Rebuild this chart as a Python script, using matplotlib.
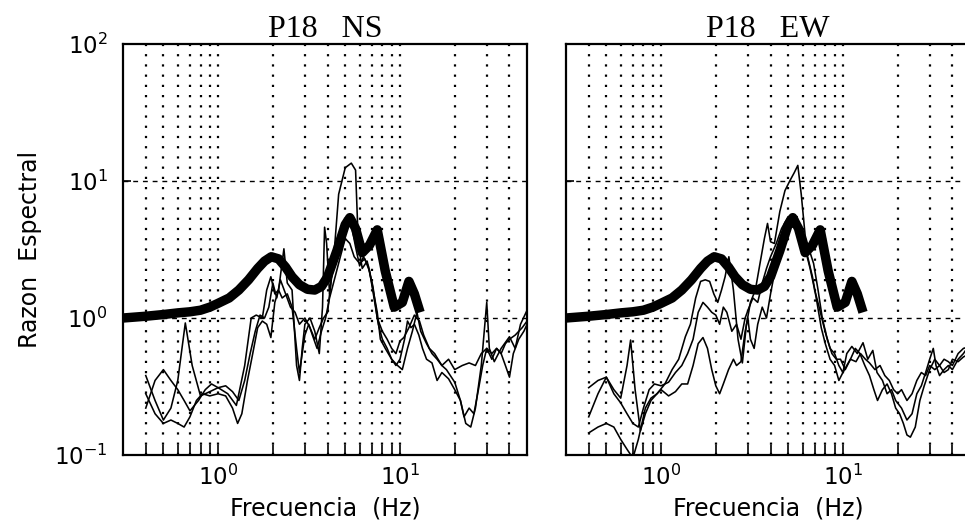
import matplotlib
matplotlib.use("Agg")
import matplotlib.pyplot as plt
from matplotlib.ticker import FixedLocator, NullFormatter, FixedFormatter

plt.rcParams["font.family"] = ["DejaVu Sans"]
plt.rcParams["mathtext.fontset"] = "dejavusans"

# Theoretical 1D transfer function of site P18 (same model for both components)
modelo_f = [0.3, 0.4, 0.5, 0.6, 0.7, 0.8, 0.9, 1.0, 1.15, 1.3, 1.47, 1.65, 1.8,
            1.96, 2.15, 2.35, 2.55, 2.8, 3.1, 3.4, 3.7, 4.0, 4.5, 5.0, 5.3, 5.7,
            6.2, 6.8, 7.5, 8.3, 9.3, 10.3, 11.2, 12.0, 12.9]
modelo_v = [1.0, 1.03, 1.06, 1.09, 1.11, 1.14, 1.2, 1.28, 1.4, 1.6, 1.9, 2.3, 2.6,
            2.8, 2.7, 2.35, 2.0, 1.75, 1.62, 1.6, 1.7, 2.0, 3.1, 4.8, 5.4, 4.5,
            3.0, 3.4, 4.4, 2.2, 1.2, 1.3, 1.85, 1.5, 1.1]

# Observed spectral ratios, NS component (three records)
ns_a_f = [0.40, 0.45, 0.50, 0.55, 0.60, 0.66, 0.72, 0.80, 0.90, 1.00, 1.13, 1.26,
          1.40, 1.52, 1.62, 1.75, 1.85, 1.95, 2.05, 2.15, 2.30, 2.40, 2.55, 2.70,
          2.80, 2.90, 3.00, 3.20, 3.40, 3.60, 3.75, 3.85, 3.95, 4.10, 4.30, 4.60,
          5.00, 5.40, 5.70, 5.90, 6.20, 6.60, 7.00, 7.50, 7.80, 8.30, 9.00, 9.70,
          10.3, 11.0, 11.7, 12.4, 13.0, 14.0, 15.0, 16.0, 17.0, 18.0, 20.0, 21.5,
          23.0, 24.5, 26.0, 28.0, 30.0, 31.0, 33.0, 36.0, 40.0, 43.0, 46.0, 50.0]
ns_a_v = [0.38, 0.25, 0.18, 0.22, 0.35, 0.92, 0.45, 0.27, 0.29, 0.31, 0.28, 0.23,
          0.45, 1.0, 1.05, 1.0, 1.6, 2.0, 1.5, 1.6, 3.2, 1.8, 1.6, 0.45,
          0.35, 0.6, 0.9, 1.0, 0.8, 0.55, 1.2, 4.6, 3.5, 1.5, 2.5, 8.0,
          12.5, 13.5, 12.0, 3.5, 2.3, 2.6, 1.8, 1.1, 0.7, 0.6, 0.5, 0.45,
          0.42, 0.6, 0.8, 1.1, 0.8, 0.65, 0.55, 0.5, 0.45, 0.42, 0.34, 0.25,
          0.17, 0.16, 0.22, 0.45, 1.3, 0.6, 0.48, 0.6, 0.73, 0.6, 0.9, 1.14]

ns_b_f = [0.40, 0.45, 0.50, 0.55, 0.60, 0.65, 0.70, 0.78, 0.85, 0.92, 1.0, 1.1,
          1.2, 1.3, 1.4, 1.5, 1.6, 1.7, 1.8, 1.9, 2.0, 2.1, 2.2, 2.35, 2.5, 2.65,
          2.8, 3.0, 3.2, 3.4, 3.6, 3.8, 4.0, 4.2, 4.5, 4.8, 5.1, 5.4, 5.7, 6.0,
          6.3, 6.7, 7.1, 7.5, 8.0, 8.5, 9.0, 9.5, 10.0, 10.5, 11.2, 12.0, 12.8,
          13.5, 14.5, 15.5, 17.0, 18.5, 20.0, 22.0, 24.0, 26.0, 28.0, 30.0, 32.0,
          34.0, 36.0, 38.0, 40.0, 43.0, 47.0, 50.0]
ns_b_v = [0.22, 0.35, 0.42, 0.35, 0.30, 0.25, 0.21, 0.25, 0.30, 0.33, 0.31, 0.32,
          0.29, 0.25, 0.35, 0.55, 0.8, 1.05, 1.0, 1.2, 1.8, 1.4, 1.9, 1.5, 1.2, 1.1,
          0.9, 1.0, 0.85, 0.7, 0.85, 1.0, 1.1, 2.0, 2.8, 3.5, 5.5, 4.8, 3.3, 2.4,
          2.8, 2.4, 1.7, 1.0, 0.8, 0.7, 0.6, 0.55, 0.68, 0.72, 0.85, 1.05, 0.95,
          0.75, 0.6, 0.55, 0.45, 0.5, 0.42, 0.45, 0.47, 0.45, 0.55, 0.6, 0.55,
          0.6, 0.55, 0.65, 0.7, 0.75, 0.85, 0.95]

ns_c_f = [0.40, 0.45, 0.50, 0.55, 0.60, 0.65, 0.70, 0.76, 0.82, 0.90, 1.0, 1.1,
          1.2, 1.28, 1.35, 1.45, 1.55, 1.65, 1.75, 1.85, 1.95, 2.05, 2.15, 2.25,
          2.4, 2.55, 2.7, 2.8, 2.9, 3.0, 3.15, 3.3, 3.5, 3.7, 3.9, 4.1, 4.4, 4.7,
          5.0, 5.3, 5.6, 6.0, 6.4, 6.8, 7.2, 7.6, 8.0, 8.5, 9.0, 9.5, 10.0, 10.6,
          11.0, 11.5, 12.0, 12.7, 13.3, 14.0, 15.0, 16.0, 17.0, 18.5, 20.0, 21.5,
          22.5, 24.0, 25.5, 27.0, 28.5, 30.0, 32.0, 34.0, 36.0, 38.0, 40.0, 42.0,
          45.0, 48.0, 50.0]
ns_c_v = [0.28, 0.20, 0.17, 0.18, 0.17, 0.16, 0.19, 0.25, 0.28, 0.27, 0.28, 0.27,
          0.22, 0.17, 0.2, 0.35, 0.55, 0.85, 0.95, 0.9, 0.72, 1.3, 1.6, 1.4,
          1.5, 1.2, 0.6, 0.4, 0.55, 0.75, 0.9, 0.75, 0.6, 0.8, 1.0, 1.4, 2.0, 2.8,
          3.8, 3.5, 2.8, 2.5, 2.7, 2.2, 1.4, 0.9, 0.7, 0.6, 0.5, 0.45, 0.5, 0.7,
          0.95, 0.85, 0.9, 0.75, 0.6, 0.5, 0.47, 0.35, 0.4, 0.36, 0.3, 0.25,
          0.19, 0.22, 0.2, 0.3, 0.45, 0.6, 0.5, 0.6, 0.55, 0.45, 0.37, 0.55,
          0.7, 0.8, 0.9]

# Observed spectral ratios, EW component (three records)
ew_a_f = [0.40, 0.45, 0.50, 0.55, 0.60, 0.65, 0.68, 0.72, 0.77, 0.82, 0.88, 0.95,
          1.0, 1.1, 1.2, 1.3, 1.4, 1.5, 1.6, 1.7, 1.8, 1.9, 2.0, 2.1, 2.2, 2.35,
          2.5, 2.6, 2.75, 2.9, 3.0, 3.1, 3.25, 3.4, 3.6, 3.8, 4.0, 4.3, 4.6, 5.0,
          5.3, 5.6, 5.9, 6.2, 6.6, 7.0, 7.4, 7.8, 8.2, 8.7, 9.2, 9.7, 10.3, 11.0,
          11.7, 12.4, 13.2, 14.0, 14.8, 15.5, 16.5, 17.5, 18.5, 19.5, 20.5, 21.5,
          22.5, 23.5, 25.0, 26.5, 28.0, 30.0, 32.0, 34.0, 36.0, 38.0, 40.0, 43.0,
          46.0, 50.0]
ew_a_v = [0.31, 0.35, 0.37, 0.30, 0.26, 0.45, 0.69, 0.3, 0.15, 0.2, 0.25, 0.28,
          0.3, 0.27, 0.29, 0.33, 0.33, 0.45, 0.65, 0.72, 0.6, 0.42, 0.32, 0.28, 0.33, 0.42,
          0.5, 0.45, 0.48, 0.8, 1.0, 0.7, 0.6, 0.9, 1.2, 1.0, 1.5, 2.5, 4.0, 5.0,
          4.6, 5.5, 3.5, 3.2, 2.3, 1.6, 1.2, 0.9, 0.7, 0.55, 0.5, 0.5, 0.42, 0.5,
          0.6, 0.55, 0.45, 0.38, 0.3, 0.25, 0.3, 0.33, 0.28, 0.22, 0.2, 0.17,
          0.14, 0.135, 0.16, 0.25, 0.32, 0.42, 0.5, 0.45, 0.4, 0.42, 0.5, 0.48,
          0.52, 0.55]

ew_b_f = [0.40, 0.45, 0.50, 0.55, 0.60, 0.65, 0.70, 0.75, 0.82, 0.88, 0.95, 1.05,
          1.15, 1.25, 1.36, 1.45, 1.55, 1.65, 1.75, 1.85, 1.95, 2.05, 2.15, 2.25,
          2.36, 2.5, 2.65, 2.8, 2.95, 3.1, 3.3, 3.5, 3.7, 3.85, 4.0, 4.2, 4.5, 4.8,
          5.1, 5.4, 5.65, 5.9, 6.2, 6.5, 6.9, 7.3, 7.7, 8.1, 8.5, 9.0, 9.5, 10.0,
          10.5, 11.2, 12.0, 12.9, 13.7, 14.6, 15.4, 16.5, 17.5, 18.5, 19.5, 21.0,
          22.5, 24.0, 25.5, 27.0, 28.5, 30.0, 31.4, 32.5, 34.0, 36.0, 38.0, 40.0,
          43.0, 46.0, 50.0]
ew_b_v = [0.145, 0.16, 0.17, 0.16, 0.13, 0.11, 0.095, 0.13, 0.22, 0.26, 0.28, 0.33,
          0.42, 0.5, 0.73, 0.9, 1.4, 1.85, 1.9, 1.85, 1.5, 1.3, 1.6, 2.0,
          2.8, 1.6, 0.7, 0.47, 0.9, 1.3, 1.6, 2.5, 3.8, 4.9, 3.6, 3.5, 6.0, 8.5,
          10.0, 11.5, 13.0, 8.0, 4.0, 3.2, 2.5, 1.6, 1.0, 0.75, 0.6, 0.55, 0.45, 0.4,
          0.55, 0.62, 0.55, 0.66, 0.5, 0.58, 0.4, 0.35, 0.28, 0.3, 0.25, 0.22,
          0.18, 0.2, 0.28, 0.32, 0.4, 0.5, 0.6, 0.45, 0.38, 0.42, 0.45, 0.42,
          0.5, 0.55, 0.65]

ew_c_f = [0.40, 0.45, 0.50, 0.55, 0.60, 0.65, 0.70, 0.75, 0.80, 0.86, 0.92, 1.0,
          1.1, 1.2, 1.3, 1.4, 1.5, 1.6, 1.7, 1.8, 1.9, 2.0, 2.1, 2.2, 2.3, 2.45,
          2.6, 2.75, 2.9, 3.05, 3.2, 3.4, 3.6, 3.8, 4.0, 4.3, 4.6, 5.0, 5.3, 5.6,
          6.0, 6.4, 6.8, 7.2, 7.6, 8.0, 8.5, 9.0, 9.5, 10.0, 10.5, 11.0, 11.8,
          12.5, 13.3, 14.0, 15.0, 16.0, 17.0, 18.0, 19.0, 20.0, 21.0, 22.5, 24.0,
          25.5, 27.0, 28.5, 30.0, 32.0, 34.0, 36.0, 38.0, 40.0, 43.0, 46.0, 50.0]
ew_c_v = [0.19, 0.28, 0.37, 0.28, 0.24, 0.2, 0.17, 0.16, 0.22, 0.3, 0.33, 0.32,
          0.34, 0.4, 0.45, 0.55, 0.7, 1.1, 1.3, 1.2, 1.1, 1.05, 0.9, 1.2, 1.1, 0.8,
          0.9, 0.7, 1.0, 1.2, 1.4, 1.3, 1.8, 2.3, 2.8, 3.5, 4.5, 5.5, 5.0, 4.2,
          3.3, 2.8, 2.0, 1.3, 0.85, 0.65, 0.5, 0.45, 0.35, 0.4, 0.45, 0.5, 0.48,
          0.55, 0.5, 0.47, 0.42, 0.45, 0.38, 0.35, 0.3, 0.28, 0.3, 0.25, 0.28,
          0.35, 0.4, 0.38, 0.45, 0.42, 0.45, 0.5, 0.48, 0.45, 0.55, 0.6, 0.62]

titulos = ["P18   NS", "P18   EW"]
x_major = [1, 10]
x_minor = [0.4, 0.5, 0.6, 0.7, 0.8, 0.9, 2, 3, 4, 5, 6, 7, 8, 9, 20, 30, 40]
y_major = [0.1, 1, 10, 100]
x_labels = [r"$10^{0}$", r"$10^{1}$"]
y_labels = [r"$10^{-1}$", r"$10^{0}$", r"$10^{1}$", r"$10^{2}$"]

fig = plt.figure(figsize=(9.65, 5.30), dpi=100)
ax1 = fig.add_axes([0.1275, 0.1415, 0.4187, 0.7755])
ax2 = fig.add_axes([0.5865, 0.1415, 0.4187, 0.7755])

paneles = [
    (ax1, titulos[0], [(ns_a_f, ns_a_v), (ns_b_f, ns_b_v), (ns_c_f, ns_c_v)], True),
    (ax2, titulos[1], [(ew_a_f, ew_a_v), (ew_b_f, ew_b_v), (ew_c_f, ew_c_v)], False),
]

for ax, titulo, curvas, con_ylabel in paneles:
    ax.set_xscale("log")
    ax.set_yscale("log")
    ax.set_xlim(0.3, 50)
    ax.set_ylim(0.1, 100)

    # vertical dotted grid at every tick frequency
    for xv in x_major + x_minor:
        ax.axvline(xv, color="black", lw=1.6, dashes=(1.0, 3.6), zorder=1)
    # horizontal dashed grid at decades
    for yv in [1, 10]:
        ax.axhline(yv, color="black", lw=1.0, dashes=(3.5, 3.5), zorder=1)

    for f, v in curvas:
        ax.plot(f, v, color="black", lw=1.15, zorder=3)
    ax.plot(modelo_f, modelo_v, color="black", lw=6.8, solid_capstyle="butt",
            solid_joinstyle="round", zorder=4)

    ax.xaxis.set_major_locator(FixedLocator(x_major))
    ax.xaxis.set_major_formatter(FixedFormatter(x_labels))
    ax.xaxis.set_minor_locator(FixedLocator(x_minor))
    ax.xaxis.set_minor_formatter(NullFormatter())
    ax.yaxis.set_major_locator(FixedLocator(y_major))
    ax.yaxis.set_minor_locator(FixedLocator([]))
    if con_ylabel:
        ax.yaxis.set_major_formatter(FixedFormatter(y_labels))
        ax.set_ylabel("Razon  Espectral", fontsize=17, labelpad=9)
    else:
        ax.yaxis.set_major_formatter(NullFormatter())

    ax.tick_params(axis="x", which="both", direction="in", length=7, width=1.2,
                   top=False, labelsize=16.5, pad=7)
    ax.tick_params(axis="y", which="both", direction="in", length=6, width=1.2,
                   right=False, labelsize=16.5, pad=11)
    for s in ax.spines.values():
        s.set_linewidth(1.6)

    ax.set_xlabel("Frecuencia  (Hz)", fontsize=17, labelpad=5)
    ax.set_title(titulo, fontsize=23, family="Liberation Serif", pad=4)

fig.savefig("out.png", dpi=100)
